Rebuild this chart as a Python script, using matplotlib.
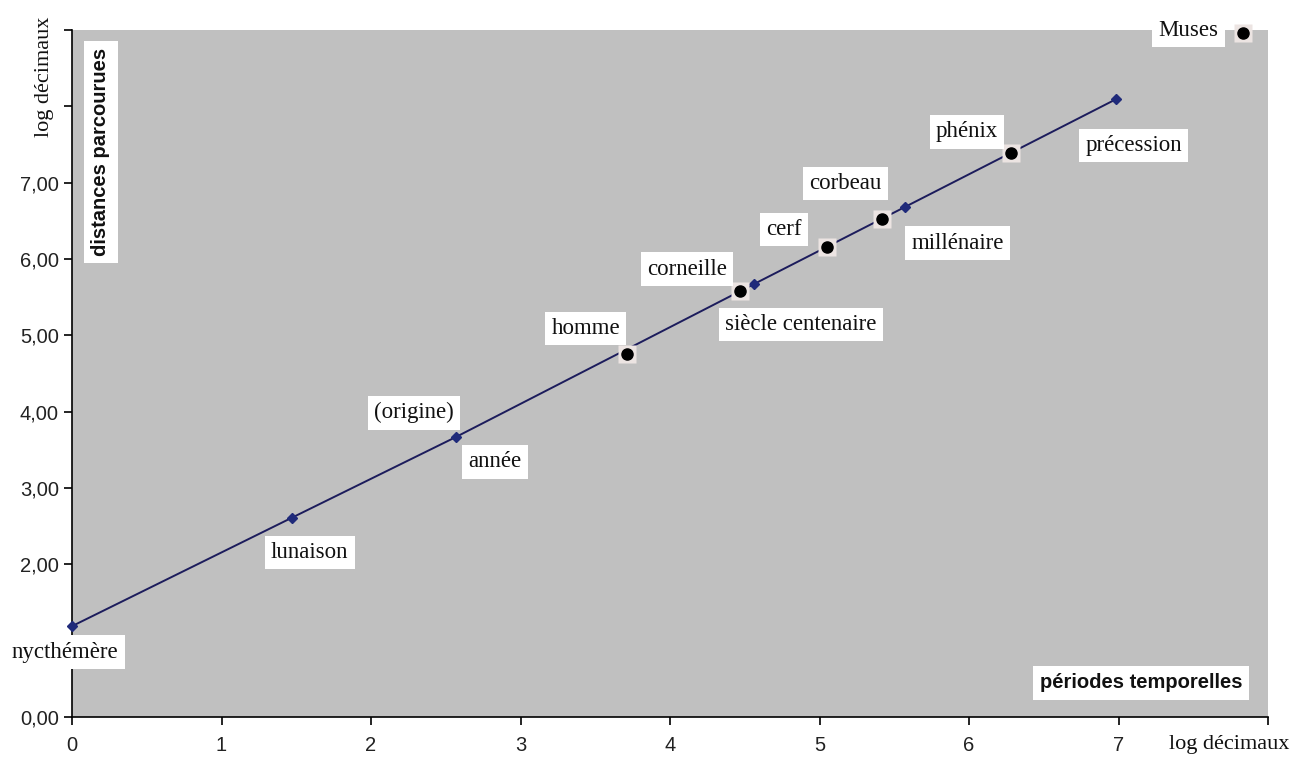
import matplotlib
matplotlib.use("Agg")
import matplotlib.pyplot as plt

# ---- data ----
line_names = ["nycthémère", "lunaison", "année", "siècle centenaire", "millénaire", "précession"]
line_x = [0.00, 1.47, 2.57, 4.56, 5.57, 6.98]
line_y = [1.19, 2.61, 3.67, 5.67, 6.68, 8.09]

dot_names = ["homme", "corneille", "cerf", "corbeau", "phénix", "Muses"]
dot_x = [3.71, 4.47, 5.05, 5.42, 6.28, 7.83]
dot_y = [4.76, 5.58, 6.16, 6.53, 7.39, 8.96]

origin_label = "(origine)"
origin_index = 2  # attached to "année"

x_ticks = [0, 1, 2, 3, 4, 5, 6, 7, 8]
x_tick_labels = ["0", "1", "2", "3", "4", "5", "6", "7", ""]
y_ticks = [0, 1, 2, 3, 4, 5, 6, 7, 8, 9]
# "1,00" is hidden behind the nycthémère label in the reference
y_tick_labels = ["0,00", "", "2,00", "3,00", "4,00", "5,00", "6,00", "7,00", "", ""]

# label offsets in pixels (dx, dy) -- style
line_offsets = [(-7, -26), (18, -35), (39, -25), (47, -40), (53, -36), (18, -46)]
dot_offsets = [(-41, 25), (-53, 22), (-43, 17), (-37, 35), (-44, 21), (-54, 3)]
origin_offset = (-42, 24)

W, H = 1298, 758
fig = plt.figure(figsize=(W / 100, H / 100), dpi=100)
ax = fig.add_axes([72 / W, 1 - 717 / H, (1268 - 72) / W, (717 - 30) / H])
ax.set_facecolor("#c0c0c0")
ax.set_xlim(0, 8)
ax.set_ylim(0, 9)

for s in ["top", "right"]:
    ax.spines[s].set_visible(False)
for s in ["left", "bottom"]:
    ax.spines[s].set_color("black")
    ax.spines[s].set_linewidth(1.2)

ax.plot(line_x, line_y, color="#1c1c5c", lw=1.4, marker="D", ms=5,
        mfc="#1f2a7a", mec="#1f2a7a", zorder=3, clip_on=False)
ax.plot(dot_x, dot_y, ls="none", marker="s", ms=13, mfc="#ece4e2", mec="none",
        zorder=4, clip_on=False)
ax.plot(dot_x, dot_y, ls="none", marker="o", ms=8, mfc="black", mec="black",
        zorder=5, clip_on=False)

serif = ["Liberation Serif", "DejaVu Serif"]
box = dict(boxstyle="square,pad=0.27", fc="white", ec="none")
px = 0.72  # pixels -> points at 100 dpi

def lab(text, x, y, off):
    ax.annotate(text, (x, y), xytext=(off[0] * px, off[1] * px), textcoords="offset points",
                ha="center", va="center", fontsize=16.5, family=serif, color="#111111",
                bbox=box, zorder=6, annotation_clip=False)

for n, x, y, o in zip(line_names, line_x, line_y, line_offsets):
    lab(n, x, y, o)
for n, x, y, o in zip(dot_names, dot_x, dot_y, dot_offsets):
    lab(n, x, y, o)
lab(origin_label, line_x[origin_index], line_y[origin_index], origin_offset)

ax.set_xticks(x_ticks)
ax.set_xticklabels(x_tick_labels)
ax.set_yticks(y_ticks)
ax.set_yticklabels(y_tick_labels)
ax.tick_params(axis="both", direction="out", length=6, width=1.2, color="black",
               labelsize=14.5, labelcolor="#222222")
ax.tick_params(axis="x", pad=8)
for t in ax.get_xticklabels() + ax.get_yticklabels():
    t.set_family(["Liberation Sans", "DejaVu Sans"])

# axis titles
fig.text(45 / W, 1 - 77 / H, "log décimaux", rotation=90, ha="center", va="center",
         fontsize=16, family=serif, color="#111111")
fig.text(1229 / W, 1 - 744 / H, "log décimaux", ha="center", va="center",
         fontsize=16, family=serif, color="#111111")

sbox = dict(boxstyle="square,pad=0.35", fc="white", ec="none")
fig.text(101 / W, 1 - 152 / H, "distances parcourues", rotation=90, ha="center", va="center",
         fontsize=14.5, fontweight="bold", family=["Liberation Sans", "DejaVu Sans"],
         color="#111111", bbox=sbox)
fig.text(1141 / W, 1 - 683 / H, "périodes temporelles", ha="center", va="center",
         fontsize=14.5, fontweight="bold", family=["Liberation Sans", "DejaVu Sans"],
         color="#111111", bbox=sbox)

fig.savefig("out.png", dpi=100, facecolor="white")
